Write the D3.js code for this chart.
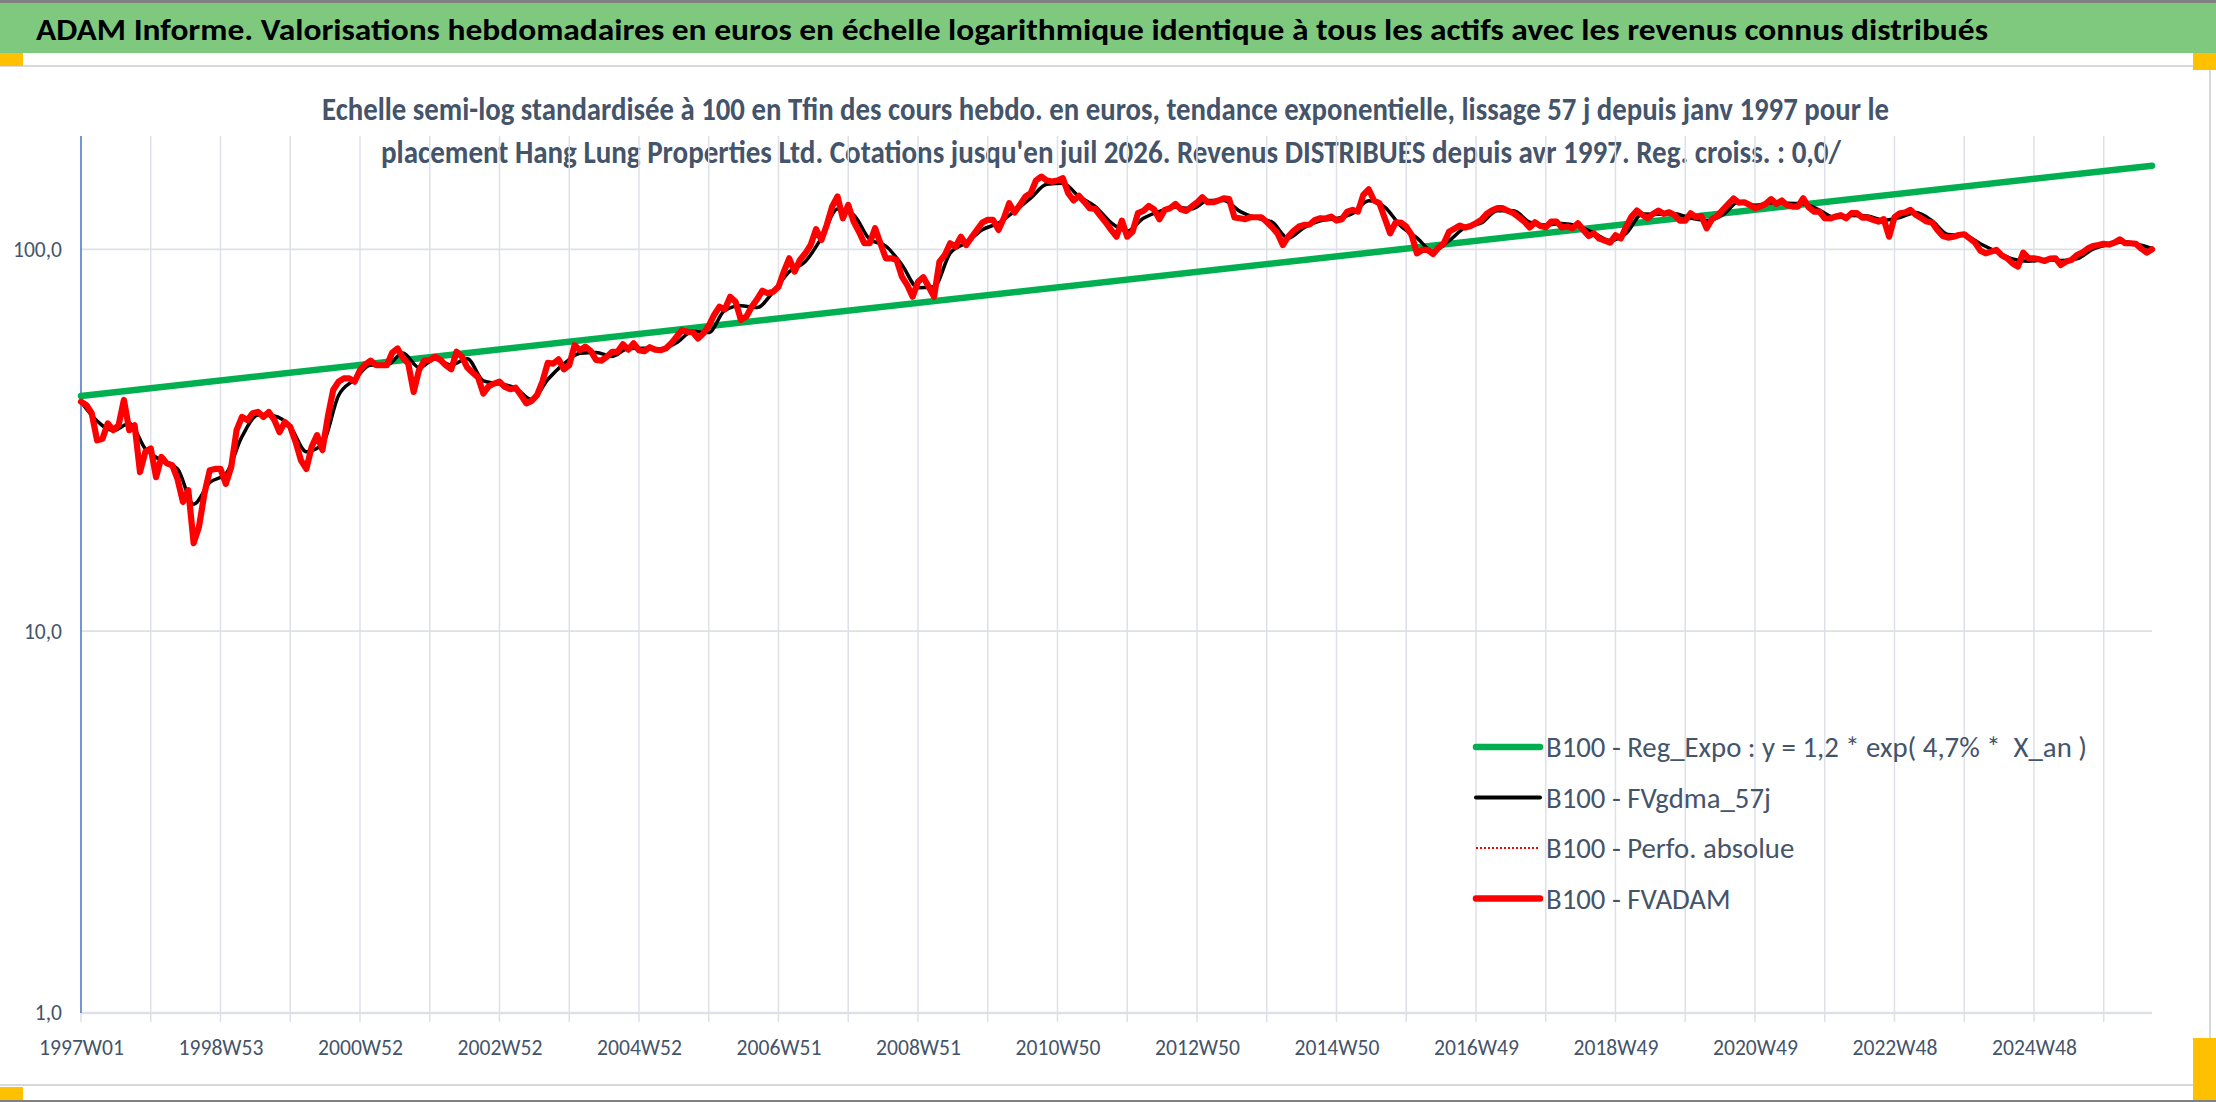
<!DOCTYPE html>
<html><head><meta charset="utf-8">
<script src="https://cdn.jsdelivr.net/npm/d3@7"></script>
<style>
html,body{margin:0;padding:0;background:#fff;}
svg{display:block;}
text{font-family: Carlito, Calibri, Lato, "Noto Sans", sans-serif;}
</style></head><body>
<svg id="c" width="2216" height="1102"></svg>
<script>
// ---------- DATA ----------
const titleText = "ADAM Informe. Valorisations hebdomadaires en euros en échelle logarithmique identique à tous les actifs avec les revenus connus distribués";
const subtitleLines = [
  "Echelle semi-log standardisée à 100 en Tfin des cours hebdo. en euros, tendance exponentielle, lissage 57 j depuis janv 1997 pour le",
  "placement Hang Lung Properties Ltd. Cotations jusqu'en juil 2026. Revenus DISTRIBUES depuis avr 1997. Reg. croiss. : 0,0/"
];
const weekLabels = ["1997W01","1998W53","2000W52","2002W52","2004W52","2006W51","2008W51","2010W50","2012W50","2014W50","2016W49","2018W49","2020W49","2022W48","2024W48"];
const lastWeek = 1544;          // index of last weekly quotation (juil 2026)
const gridStepWeeks = 52;
const labelStepWeeks = 104;
const yTicks = [1, 10, 100];
const legendNames = [
  "B100 - Reg_Expo : y = 1,2 * exp( 4,7% *  X_an )",
  "B100 - FVgdma_57j",
  "B100 - Perfo. absolue",
  "B100 - FVADAM"
];

// FVADAM (B100), one value every 4 weeks from 1997W01
const fvadamStep = 4;
const fvadam = [
39.9,39.1,37.2,31.6,31.9,35.0,33.6,34.6,40.3,33.6,
34.6,26.1,29.5,30.1,25.3,28.6,27.5,27.2,25.0,21.8,
23.4,17.0,18.8,22.9,26.4,26.6,26.6,24.3,26.9,33.6,
36.4,35.7,37.2,37.5,36.4,37.5,35.8,33.2,35.3,34.3,
31.3,28.0,26.6,30.4,32.6,29.8,36.4,42.8,45.0,45.9,
45.9,45.0,48.3,50.0,51.1,49.7,49.7,49.7,53.6,55.0,
52.0,50.2,42.3,48.3,51.1,51.3,52.3,51.3,49.7,48.5,
53.9,52.3,49.0,47.5,46.2,41.9,43.8,44.5,45.0,43.6,
43.0,43.4,41.5,39.5,40.1,41.5,45.0,50.4,50.2,51.5,
48.5,49.7,56.1,54.4,55.6,54.2,51.3,51.1,52.3,53.9,
53.9,56.4,54.6,56.7,54.4,54.1,55.4,54.6,54.4,55.0,
56.7,59.0,61.4,60.8,60.7,58.4,60.2,63.0,67.3,70.7,
69.6,75.1,72.9,65.3,66.6,70.7,73.9,77.9,76.7,77.4,
79.8,87.4,94.7,87.4,93.8,97.6,102.6,112.9,105.8,115.8,
129.4,137.4,120.6,130.7,118.2,111.2,103.7,103.7,113.5,103.7,
94.7,94.7,93.8,84.8,80.6,75.1,82.2,84.5,79.8,75.1,
92.8,96.6,103.7,101.6,107.9,102.6,107.5,112.4,117.5,119.4,
119.4,112.4,120.6,132.0,124.8,130.7,137.4,140.2,151.4,155.0,
151.4,150.4,151.4,153.5,140.2,134.2,138.0,133.1,128.1,127.6,
122.3,117.5,112.4,107.9,118.9,107.9,111.2,124.3,126.0,129.9,
127.3,119.9,126.8,128.1,131.5,127.3,126.0,129.4,132.5,136.9,
132.8,132.8,134.2,136.0,135.3,121.1,120.6,119.9,121.3,121.3,
121.3,117.9,114.2,110.1,102.6,107.9,111.7,114.7,115.8,116.1,
119.4,120.6,120.4,121.8,118.9,119.9,125.5,126.8,125.5,138.8,
143.6,134.2,132.0,120.6,110.1,117.5,117.5,114.7,109.0,97.6,
99.6,99.6,97.2,101.0,103.7,111.2,113.3,115.4,114.0,115.1,
117.0,119.4,123.8,126.5,128.1,128.1,126.0,124.3,121.3,118.2,
114.0,117.7,115.1,114.2,118.2,118.2,114.0,114.7,113.5,117.0,
112.4,108.3,110.1,106.6,105.4,104.1,108.8,106.8,114.7,121.8,
126.3,123.0,120.6,123.8,126.3,123.8,125.0,123.0,118.9,118.9,
124.3,121.3,122.3,113.5,119.9,122.3,126.8,131.2,135.8,132.5,
132.8,130.7,128.1,129.4,131.5,135.3,131.5,134.2,130.4,129.4,
129.4,136.0,128.9,125.5,125.5,120.6,120.4,121.8,122.8,120.6,
124.3,124.3,121.1,121.1,119.4,118.2,119.9,107.9,121.3,124.3,
124.8,126.8,123.0,120.6,118.2,117.5,112.4,108.3,107.3,107.9,
109.0,109.5,106.8,104.1,99.2,97.6,98.6,99.6,96.4,94.7,
91.9,90.1,98.0,94.7,94.7,94.1,93.2,94.5,94.7,91.0,
92.8,93.8,96.6,98.0,100.4,102.0,102.6,103.3,102.9,104.1,
106.2,103.7,103.7,103.3,100.4,98.0,100.0
];
// Perfo. absolue (B100) – identical path, hidden under FVADAM
const perfoAbsolue = fvadam;

// FVgdma_57j (B100), one value every 12 weeks (last one at the final week)
const fvgdmaStep = 12;
const fvgdma = [
39.9,35.5,33.5,35.0,30.0,28.0,26.6,21.5,24.5,25.8,
32.3,36.8,36.6,34.3,29.5,30.9,41.4,45.6,49.8,49.7,
53.5,49.0,51.6,49.8,51.7,45.2,44.4,43.3,40.4,45.6,
50.1,53.4,53.7,52.4,55.0,55.1,54.8,56.9,61.0,60.5,
69.2,71.1,70.4,77.3,87.3,92.9,107.1,127.5,123.0,106.2,
102.0,91.1,79.3,79.8,97.7,104.0,112.5,117.1,125.8,136.1,
148.0,149.0,137.5,129.6,117.4,111.6,120.5,125.7,128.8,127.6,
134.1,134.3,125.7,120.8,117.8,106.9,114.1,118.7,120.4,124.1,
134.0,129.0,115.0,107.1,98.8,105.3,114.2,117.2,126.1,126.1,
117.8,115.7,116.8,115.1,110.3,105.4,110.1,123.7,123.6,123.9,
120.7,119.0,123.0,133.2,130.5,132.1,132.0,131.6,126.6,120.9,
122.6,122.2,119.2,121.0,124.9,118.8,109.3,108.8,103.4,98.6,
94.3,93.0,94.0,93.4,94.4,100.1,102.9,104.7,102.5,100.5
];

// Reg_Expo trend line (B100): values at first and last week
const regExpoWeeks = [0, lastWeek];
const regExpo = [41.3, 165.5];

// ---------- DRAW ----------
const W = 2216, H = 1102;
const svg = d3.select("#c");
const M = {left: 81, right: 2152, top: 136, bottom: 1013};

// frame decorations
svg.append("rect").attr("x",0).attr("y",0).attr("width",W).attr("height",H).attr("fill","#fff");
svg.append("rect").attr("x",0).attr("y",0).attr("width",W).attr("height",3).attr("fill","#808080");
svg.append("rect").attr("x",0).attr("y",3).attr("width",W).attr("height",50).attr("fill","#7fc97f");
svg.append("line").attr("x1",0).attr("x2",2210).attr("y1",66).attr("y2",66).attr("stroke","#d9d9d9").attr("stroke-width",2);
svg.append("line").attr("x1",0).attr("x2",2210).attr("y1",1085).attr("y2",1085).attr("stroke","#d9d9d9").attr("stroke-width",2);
svg.append("line").attr("x1",2210).attr("x2",2210).attr("y1",66).attr("y2",1085).attr("stroke","#d9d9d9").attr("stroke-width",2);
svg.append("rect").attr("x",0).attr("y",1100).attr("width",W).attr("height",2).attr("fill","#808080");
const yellow = "#ffc000";
svg.append("rect").attr("x",0).attr("y",53).attr("width",23).attr("height",13).attr("fill",yellow);
svg.append("rect").attr("x",2193).attr("y",53).attr("width",23).attr("height",17).attr("fill",yellow);
svg.append("rect").attr("x",0).attr("y",1087).attr("width",23).attr("height",13).attr("fill",yellow);
svg.append("rect").attr("x",2193).attr("y",1038).attr("width",23).attr("height",62).attr("fill",yellow);

// helper: horizontally fit a text to a target width
function fitWidth(sel, target) {
  const n = sel.node().getComputedTextLength();
  sel.attr("textLength", target).attr("lengthAdjust", "spacingAndGlyphs");
  return target / n;
}

// title
const t = svg.append("text").attr("x",36).attr("y",40)
  .attr("font-size",31).attr("font-weight","bold").attr("fill","#000").text(titleText);
fitWidth(t, 1952);

// subtitle
const subX = [322, 381], subW = [1567, 1460], subY = [120, 163];
subtitleLines.forEach((s,i) => {
  const st = svg.append("text").attr("x",subX[i]).attr("y",subY[i])
    .attr("font-size",32).attr("font-weight","bold").attr("fill","#44546a").text(s);
  fitWidth(st, subW[i]);
});

// scales
const x = d3.scaleLinear().domain([0, lastWeek]).range([M.left, M.right]);
const y = d3.scaleLog().domain([1, 198]).range([M.bottom, M.top]);

// gridlines
const gridColor = "#dde1e7";
const g = svg.append("g");
g.selectAll("line.v").data(d3.range(gridStepWeeks, lastWeek + 1, gridStepWeeks)).join("line")
  .attr("x1", d => x(d)).attr("x2", d => x(d))
  .attr("y1", M.top).attr("y2", M.bottom + 9)
  .attr("stroke", gridColor).attr("stroke-width", 1.5);
g.selectAll("line.h").data(yTicks).join("line")
  .attr("x1", M.left).attr("x2", M.right)
  .attr("y1", d => y(d)).attr("y2", d => y(d))
  .attr("stroke", gridColor).attr("stroke-width", d => d === 1 ? 2.5 : 1.8);
// tick at week 0
g.append("line").attr("x1",x(0)).attr("x2",x(0)).attr("y1",M.bottom).attr("y2",M.bottom+9)
  .attr("stroke",gridColor).attr("stroke-width",1.5);

// axes
const labelWeeks = weekLabels.map((d,i) => i * labelStepWeeks);
const xAxis = d3.axisBottom(x).tickValues(labelWeeks).tickFormat((d,i) => weekLabels[i])
  .tickSize(0).tickPadding(27);
const gx = svg.append("g").attr("transform", `translate(0,${M.bottom})`).call(xAxis);
gx.select(".domain").remove();
gx.selectAll("text").attr("font-size", 21.6).attr("fill", "#44546a")
  .style("font-family", "Carlito, Calibri, Lato, sans-serif");

const yAxis = d3.axisLeft(y).tickValues(yTicks)
  .tickFormat(d => d3.format(".1f")(d).replace(".", ","))
  .tickSize(0).tickPadding(19);
const gy = svg.append("g").attr("transform", `translate(${M.left},0)`).call(yAxis);
gy.select(".domain").remove();
gy.selectAll("text").attr("font-size", 21.5).attr("fill", "#44546a")
  .style("font-family", "Carlito, Calibri, Lato, sans-serif");

// left axis line
svg.append("line").attr("x1",M.left).attr("x2",M.left).attr("y1",M.top).attr("y2",M.bottom)
  .attr("stroke","#4472c4").attr("stroke-width",1.5);

// series
const line = d3.line().x(d => x(d[0])).y(d => y(d[1]));
const regPts = regExpo.map((v,i) => [regExpoWeeks[i], v]);
const gdmaPts = fvgdma.map((v,i) => [Math.min(i * fvgdmaStep, lastWeek), v]);
const adamPts = fvadam.map((v,i) => [Math.min(i * fvadamStep, lastWeek), v]);
const perfPts = perfoAbsolue.map((v,i) => [Math.min(i * fvadamStep, lastWeek), v]);

svg.append("path").attr("d", line(regPts)).attr("fill","none")
  .attr("stroke","#00b050").attr("stroke-width",6.5).attr("stroke-linecap","round");
svg.append("path").attr("d", line.curve(d3.curveMonotoneX)(gdmaPts)).attr("fill","none")
  .attr("stroke","#000").attr("stroke-width",3.5).attr("stroke-linejoin","round");
line.curve(d3.curveLinear);
svg.append("path").attr("d", line(perfPts)).attr("fill","none")
  .attr("stroke","#ff0000").attr("stroke-width",2).attr("stroke-dasharray","2,2");
svg.append("path").attr("d", line(adamPts)).attr("fill","none")
  .attr("stroke","#ff0000").attr("stroke-width",6.2).attr("stroke-linejoin","round").attr("stroke-linecap","round");

// legend
const legY0 = 747, legStep = 50.5;
const legStyles = [
  {c:"#00b050", w:6.5, dash:null},
  {c:"#000000", w:4, dash:null},
  {c:"#ff0000", w:2, dash:"2,2"},
  {c:"#ff0000", w:6.5, dash:null}
];
const leg = svg.append("g");
let ratio = 1;
legendNames.forEach((name, i) => {
  const yy = legY0 + i * legStep;
  leg.append("line").attr("x1",1476).attr("x2",1540).attr("y1",yy).attr("y2",yy)
    .attr("stroke",legStyles[i].c).attr("stroke-width",legStyles[i].w)
    .attr("stroke-linecap", legStyles[i].dash ? "butt" : "round")
    .attr("stroke-dasharray", legStyles[i].dash);
  const tx = leg.append("text").attr("x",1546).attr("y",yy + 10)
    .attr("font-size",28).attr("fill","#44546a").style("white-space","pre").text(name);
  if (i === 0) ratio = fitWidth(tx, 541);
  else fitWidth(tx, tx.node().getComputedTextLength() * ratio);
});
</script>
</body></html>
